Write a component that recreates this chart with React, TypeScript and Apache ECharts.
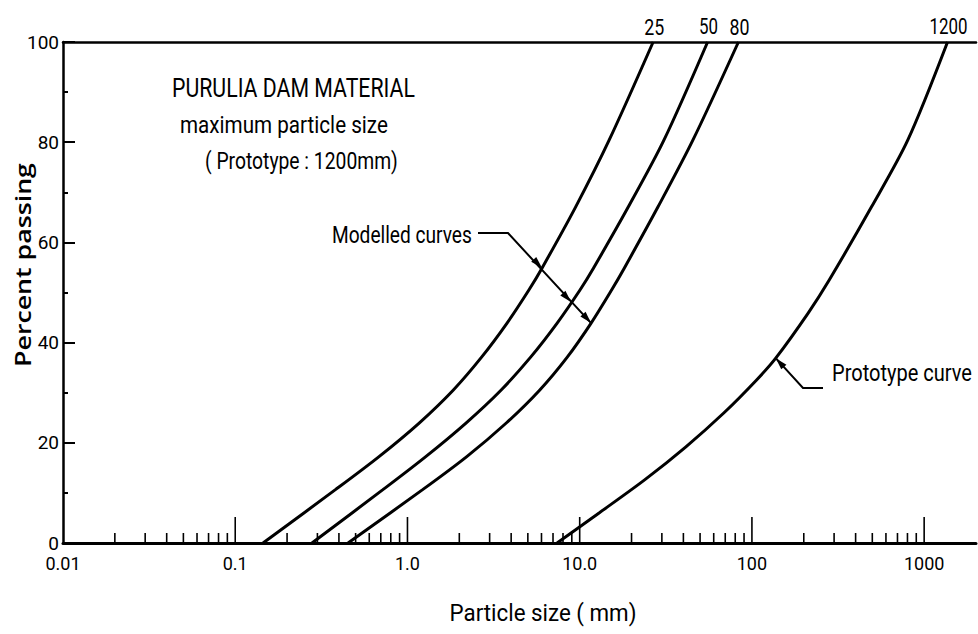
import React, { useEffect, useRef } from "react";
import * as echarts from "echarts";

// ---- data ----
const curve25Size = [0.145, 0.38, 0.681, 1.174, 1.842, 2.694, 3.787, 5.07, 6.05, 9.48, 14.82, 26.7];
const curve25Pct = [0, 10.6, 17.2, 24, 30.5, 37.1, 43.9, 50.5, 54.9, 67.1, 80.4, 100];

const curve50Size = [0.279, 0.717, 1.272, 2.195, 3.49, 5.19, 7.4, 10.04, 12.04, 19.17, 30.83, 55.3];
const curve50Pct = [0, 10.6, 17.2, 24, 30.5, 37.1, 43.9, 50.5, 54.9, 67.1, 80.4, 100];

const curve80Size = [0.452, 1.219, 2.201, 3.762, 5.85, 8.47, 11.65, 15.32, 18.18, 28.5, 45.4, 83.5];
const curve80Pct = [0, 10.6, 17.2, 24, 30.5, 37.1, 43.9, 50.5, 54.9, 67.1, 80.4, 100];

const protoSize = [7.39, 12.96, 23.82, 41.37, 68.87, 106.1, 137.5, 212.1, 281.1, 494.9, 803, 1367];
const protoPct = [0, 6, 12.6, 19.2, 26, 32.5, 36.9, 45.9, 52.5, 67.1, 80.4, 100];

const topLabels = ["25", "50", "80", "1200"];

const xTickLabels: Record<string, string> = {
  "-2": "0.01",
  "-1": "0.1",
  "0": "1.0",
  "1": "10.0",
  "2": "100",
  "3": "1000",
};

const majorTicks = [0.1, 1, 10, 100, 1000];
const minorTicks = [
  0.02, 0.03, 0.04, 0.05, 0.06, 0.07, 0.08, 0.09,
  0.2, 0.3, 0.4, 0.5, 0.6, 0.7, 0.8, 0.9,
  2, 3, 4, 5, 6, 7, 8, 9,
  20, 30, 40, 50, 60, 70, 80, 90,
  200, 300, 400, 500, 600, 700, 800, 900,
];

// arrow tips (data space) on the curves
const modelledTips: [number, number][] = [
  [6.05, 54.9],
  [8.9, 48.1],
  [11.65, 43.9],
];
const prototypeTip: [number, number] = [137.5, 36.9];

const FONT = "Roboto, sans-serif";

function measure(text: string, font: string): number {
  const c = document.createElement("canvas");
  const ctx = c.getContext("2d")!;
  ctx.font = font;
  return ctx.measureText(text).width;
}

export default function App() {
  const ref = useRef<HTMLDivElement>(null);

  useEffect(() => {
    const chart = echarts.init(ref.current!, null, { renderer: "svg" });

    const lineSeries = (name: string, sizes: number[], pcts: number[]) => ({
      name,
      type: "line",
      xAxisIndex: 0,
      yAxisIndex: 0,
      data: sizes.map((s, i) => [s, pcts[i]]),
      symbol: "none",
      smooth: 0.3,
      lineStyle: { color: "#000", width: 3 },
      z: 5,
    });

    const tickSeries = (data: number[], len: number) => ({
      type: "custom",
      xAxisIndex: 0,
      yAxisIndex: 0,
      data: data.map((v) => [v, 0]),
      silent: true,
      clip: false,
      z: 4,
      renderItem: (_p: any, api: any) => {
        const pt = api.coord([api.value(0), 0]);
        return {
          type: "line",
          shape: { x1: pt[0], y1: pt[1], x2: pt[0], y2: pt[1] - len },
          style: { stroke: "#000", lineWidth: 1.6 },
        };
      },
    });

    const option: any = {
      animation: false,
      backgroundColor: "#fff",
      grid: { left: 63, right: 2, top: 42, bottom: 91, containLabel: false },
      xAxis: [
        {
          type: "log",
          logBase: 10,
          min: 0.01,
          max: 2000,
          position: "bottom",
          axisLine: { show: true, lineStyle: { color: "#000", width: 3 } },
          axisTick: { show: false },
          splitLine: { show: false },
          minorTick: { show: false },
          axisLabel: {
            showMaxLabel: false,
            color: "#000",
            fontFamily: FONT,
            fontSize: 18,
            margin: 11,
            formatter: (v: number) => {
              const k = Math.round(Math.log10(v));
              if (Math.abs(Math.log10(v) - k) > 1e-6) return "";
              return xTickLabels[String(k)] ?? "";
            },
          },
        },
        {
          type: "log",
          logBase: 10,
          min: 0.01,
          max: 2000,
          position: "top",
          axisLine: { show: true, lineStyle: { color: "#000", width: 2.5 } },
          axisTick: { show: false },
          axisLabel: { show: false },
          splitLine: { show: false },
        },
      ],
      yAxis: {
        type: "value",
        min: 0,
        max: 100,
        interval: 20,
        axisLine: { show: true, lineStyle: { color: "#000", width: 2.5 } },
        axisTick: { show: true, inside: true, length: 12, lineStyle: { color: "#000", width: 2 } },
        minorTick: { show: true, splitNumber: 2, length: 5, lineStyle: { color: "#000", width: 2 } },
        splitLine: { show: false },
        minorSplitLine: { show: false },
        axisLabel: { color: "#000", fontFamily: FONT, fontSize: 19, margin: 4 },
      },
      series: [
        lineSeries("25", curve25Size, curve25Pct),
        lineSeries("50", curve50Size, curve50Pct),
        lineSeries("80", curve80Size, curve80Pct),
        lineSeries("1200", protoSize, protoPct),
        tickSeries(majorTicks, 26),
        tickSeries(minorTicks, 10),
      ],
    };

    chart.setOption(option);

    const px = (x: number, y: number) =>
      chart.convertToPixel({ xAxisIndex: 0, yAxisIndex: 0 }, [x, y]) as number[];

    const arrowHead = (from: number[], tip: number[], len = 12, half = 3.5) => {
      const dx = tip[0] - from[0];
      const dy = tip[1] - from[1];
      const L = Math.hypot(dx, dy);
      const ux = dx / L;
      const uy = dy / L;
      const bx = tip[0] - ux * len;
      const by = tip[1] - uy * len;
      return {
        type: "polygon",
        shape: {
          points: [
            [tip[0], tip[1]],
            [bx - uy * half, by + ux * half],
            [bx + uy * half, by - ux * half],
          ],
        },
        style: { fill: "#000" },
        z: 10,
      };
    };

    // text fitted to a target width via horizontal scaling (condensed lettering)
    const fitText = (
      text: string,
      x: number,
      y: number,
      size: number,
      width: number,
      align = "left",
      weight = "normal",
      family = FONT,
      rotation = 0
    ) => {
      const font = `${weight} ${size}px ${family}`;
      const w = measure(text, font);
      return {
        type: "text",
        x,
        y,
        rotation,
        scaleX: width / w,
        style: {
          text,
          font,
          fill: "#000",
          textAlign: align,
          textVerticalAlign: "middle",
        },
        z: 10,
      };
    };

    const ends = [
      [curve25Size, curve25Pct],
      [curve50Size, curve50Pct],
      [curve80Size, curve80Pct],
      [protoSize, protoPct],
    ].map(([s, p]) => px(s[s.length - 1], p[p.length - 1]));
    const topWidths = [20, 19, 20, 38];

    const topTexts = ends.map((pt, i) =>
      fitText(topLabels[i], pt[0] + 1, pt[1] - 15, 22, topWidths[i], "center")
    );

    const tips = modelledTips.map(([x, y]) => px(x, y));
    const elbow = [508, 233];
    const pTip = px(prototypeTip[0], prototypeTip[1]);
    const pElbow = [803, 388];

    const graphic: any[] = [
      ...topTexts,
      fitText("PURULIA DAM MATERIAL", 172, 88, 25, 243),
      fitText("maximum particle size", 180, 124, 24, 208),
      fitText("( Prototype : 1200mm)", 205, 161, 24, 193),
      fitText("Modelled curves", 332, 235, 23, 140),
      fitText("Prototype curve", 832, 373, 23, 140),
      fitText("Particle size ( mm)", 543, 613, 24, 187, "center"),
      fitText(
        "Percent passing",
        22,
        265,
        22,
        204,
        "center",
        "600",
        '"Open Sans", "Liberation Sans", sans-serif',
        Math.PI / 2
      ),
      {
        type: "polyline",
        shape: { points: [[478, 233], elbow, tips[2]] },
        style: { stroke: "#000", lineWidth: 2, fill: null },
        z: 10,
      },
      ...tips.map((t) => arrowHead(elbow, t)),
      {
        type: "polyline",
        shape: { points: [[823, pElbow[1]], pElbow, pTip] },
        style: { stroke: "#000", lineWidth: 2, fill: null },
        z: 10,
      },
      arrowHead(pElbow, pTip),
    ];

    chart.setOption({ graphic });

    return () => chart.dispose();
  }, []);

  return (
    <div
      ref={ref}
      style={{ position: "fixed", left: 0, top: 0, width: 978, height: 634, background: "#fff" }}
    />
  );
}
